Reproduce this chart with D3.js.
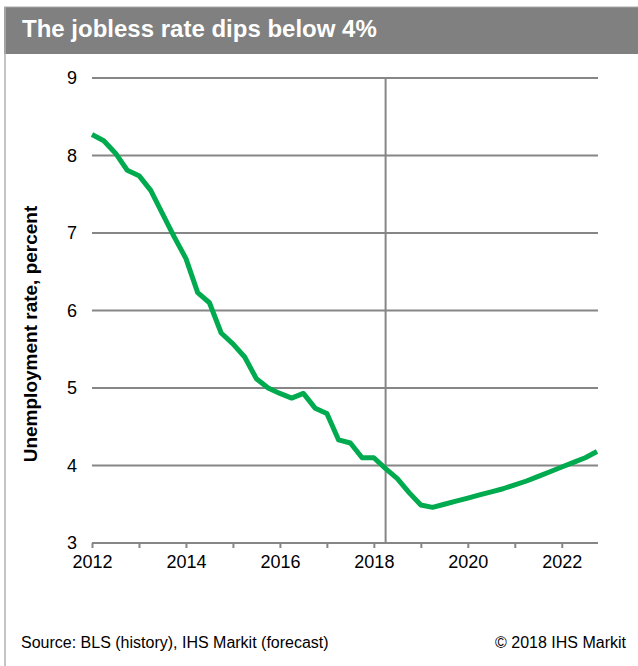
<!DOCTYPE html>
<html>
<head>
<meta charset="utf-8">
<script src="https://cdn.jsdelivr.net/npm/d3@7"></script>
<style>
  body { margin: 0; background: #fff; font-family: "Liberation Sans", Arial, sans-serif; }
</style>
</head>
<body>
<div id="chart"></div>
<script>
// quarterly unemployment rate, 2012Q1 .. 2022Q4 (history to 2018Q2, then forecast)
const startYear = 2012;
const rates = [
    8.27, 8.19, 8.03, 7.81,
    7.74, 7.55, 7.25, 6.95,
    6.67, 6.23, 6.10, 5.71,
    5.57, 5.40, 5.12, 5.00,
    4.93, 4.87, 4.93, 4.74,
    4.67, 4.33, 4.29, 4.10,
    4.10, 3.96, 3.83, 3.65,
    3.49, 3.46, 3.50, 3.54,
    3.58, 3.62, 3.66, 3.70,
    3.75, 3.80, 3.86, 3.92,
    3.98, 4.04, 4.10, 4.18
];
const yTicks = [3, 4, 5, 6, 7, 8, 9];
const xLabelYears = [2012, 2014, 2016, 2018, 2020, 2022];
const forecastStart = 2018.25;

const title = "The jobless rate dips below 4%";
const yTitle = "Unemployment rate, percent";
const source = "Source: BLS (history), IHS Markit (forecast)";
const copyright = "© 2018 IHS Markit";

const W = 638, H = 666;
const grey = "#868686";

const data = rates.map((v, i) => ({ t: startYear + i / 4, v: v }));

const svg = d3.select("#chart").append("svg")
    .attr("width", W)
    .attr("height", H);

// title bar + left frame line
svg.append("rect")
    .attr("x", 4).attr("y", 7)
    .attr("width", W - 4).attr("height", 47)
    .attr("fill", "#808080");
svg.append("line")
    .attr("x1", 4).attr("x2", W)
    .attr("y1", 7).attr("y2", 7)
    .attr("stroke", "#a8a8a8").attr("stroke-width", 1);
svg.append("line")
    .attr("x1", 5).attr("x2", 5)
    .attr("y1", 7).attr("y2", H)
    .attr("stroke", "#b0b0b0").attr("stroke-width", 1.5);
svg.append("text")
    .attr("x", 22).attr("y", 37)
    .attr("fill", "#fff")
    .style("font-size", "24px")
    .style("font-weight", "bold")
    .text(title);

const x = d3.scaleLinear()
    .domain([startYear, startYear + (rates.length - 1) / 4])
    .range([92, 597]);

const y = d3.scaleLinear()
    .domain([3, 9])
    .range([543, 78]);

const plot = svg.append("g");

// horizontal gridlines
plot.selectAll(".grid")
    .data(yTicks.filter(d => d > 3))
    .enter()
    .append("line")
    .attr("class", "grid")
    .attr("x1", x.range()[0]).attr("x2", x.range()[1] + 1)
    .attr("y1", d => y(d)).attr("y2", d => y(d))
    .attr("stroke", grey).attr("stroke-width", 2);

// y tick labels
plot.selectAll(".ylab")
    .data(yTicks)
    .enter()
    .append("text")
    .attr("class", "ylab")
    .attr("x", 77)
    .attr("y", d => y(d) + 6)
    .attr("text-anchor", "end")
    .style("font-size", "18px")
    .text(d => d);

// forecast divider
plot.append("line")
    .attr("x1", x(forecastStart)).attr("x2", x(forecastStart))
    .attr("y1", y(9)).attr("y2", y(3))
    .attr("stroke", grey).attr("stroke-width", 2);

// x axis
const xAxis = plot.append("g")
    .attr("transform", `translate(0,${y(3)})`)
    .call(d3.axisBottom(x)
        .tickValues(d3.range(startYear, 2023))
        .tickSize(5)
        .tickFormat(d => xLabelYears.includes(d) ? d : ""));
xAxis.select(".domain")
    .attr("stroke", grey).attr("stroke-width", 2)
    .attr("d", `M${x.range()[0]},0H${x.range()[1] + 1}`);
xAxis.selectAll(".tick line").attr("stroke", grey).attr("stroke-width", 2);
xAxis.selectAll(".tick text")
    .attr("y", 12)
    .attr("fill", "#000")
    .style("font-size", "18px")
    .style("font-family", "'Liberation Sans', Arial, sans-serif");

// y axis title
svg.append("text")
    .attr("transform", "translate(37,334) rotate(-90)")
    .attr("text-anchor", "middle")
    .style("font-size", "19px")
    .style("font-weight", "bold")
    .text(yTitle);

// the series
const line = d3.line()
    .x(d => x(d.t))
    .y(d => y(d.v));

plot.append("path")
    .datum(data)
    .attr("d", line)
    .attr("fill", "none")
    .attr("stroke", "#00aa4f")
    .attr("stroke-width", 5)
    .attr("stroke-linejoin", "round");

// footer
svg.append("text")
    .attr("x", 21).attr("y", 648)
    .style("font-size", "16px")
    .text(source);
svg.append("text")
    .attr("x", 626).attr("y", 648)
    .attr("text-anchor", "end")
    .style("font-size", "16px")
    .text(copyright);
</script>
</body>
</html>
